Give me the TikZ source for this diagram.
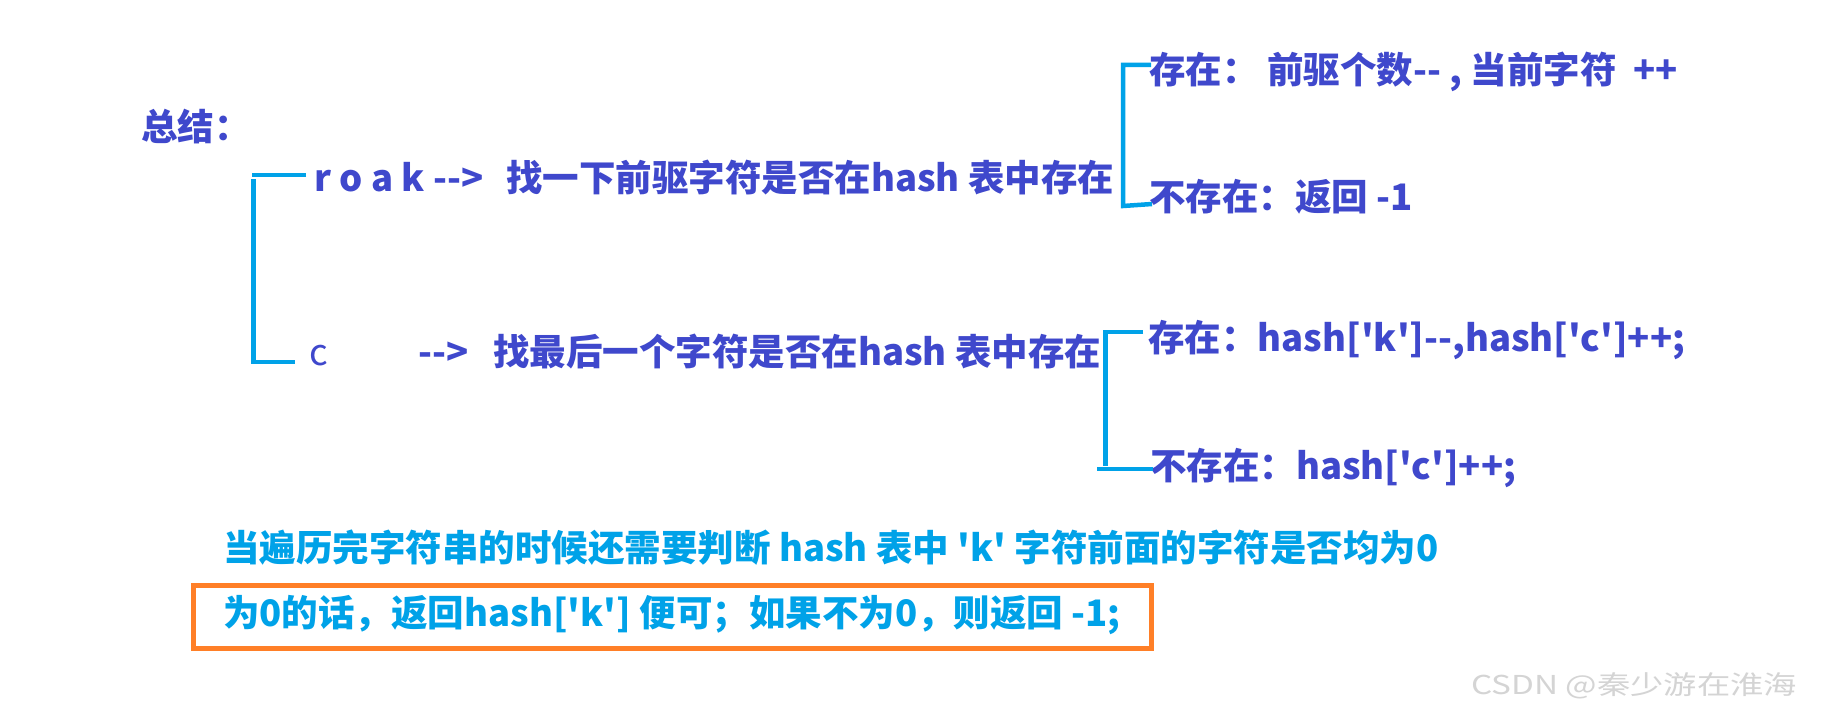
\documentclass[tikz,border=0pt]{standalone}
\usepackage{fontspec}
\setmainfont{Noto Sans CJK SC}[Ligatures=TeXOff]
\usepackage{tikz}
\definecolor{inkblue}{HTML}{3F48CC}
\definecolor{markcyan}{HTML}{00A2E8}
\definecolor{markorange}{HTML}{FF7F27}
\begin{document}
\begin{tikzpicture}[x=1pt, y=-1pt,
    txt/.style={anchor=base west, inner sep=0pt, text=inkblue,
        font=\fontsize{36.5}{44}\selectfont\bfseries},
    note/.style={txt, text=markcyan},
    brace/.style={draw=markcyan, line width=4.5pt},
    ]
    \useasboundingbox[fill=white] (0,0) rectangle (1823,717);
    % heading
    \node[txt] (title) at (141,140) {总结：};
    % first branch: r o a k
    \node[txt] (roak) at (314,191) {r o a k -->};
    \node[txt] (find1) at (506,191) {找一下前驱字符是否在hash 表中存在};
    \node[txt] (yes1) at (1149,83) {存在：\ 前驱个数-- , 当前字符 \ ++};
    \node[txt] (no1) at (1149,210) {不存在：返回 -1};
    % second branch: c
    \node[txt, font=\fontsize{36.5}{44}\selectfont] (c) at (309,365) {c};
    \node[txt] (arrc) at (418,365) {-->};
    \node[txt] (find2) at (493,365) {找最后一个字符是否在hash 表中存在};
    \node[txt] (yes2) at (1148,351) {存在：hash['k']--,hash['c']++;};
    \node[txt] (no2) at (1150,479) {不存在：hash['c']++;};
    % final check after the loop
    \node[note] (check) at (223,561) {当遍历完字符串的时候还需要判断 hash 表中 'k' 字符前面的字符是否均为0};
    \node[note] (result) at (223,626) {为0的话，返回hash['k'] 便可；如果不为0，则返回 -1;};
    \draw[draw=markorange, line width=5pt] (193.5,585.5) rectangle (1151,648.5);
    % brackets
    \coordinate (l1) at (306,175);
    \coordinate (l2) at (295,362);
    \coordinate (r1) at (1151,65);
    \coordinate (r2) at (1152,204);
    \coordinate (s1) at (1143,332);
    \coordinate (s2) at (1153,469);
    \draw[brace] (l1) -- (252,175);
    \draw[brace] (253.5,179) |- (l2);
    \draw[brace] (r1) -| (1123,206) -- (r2);
    \draw[brace] (s1) -| (1105.5,466);
    \draw[brace] (1097,469) -- (s2);
    % watermark
    \node[anchor=base west, inner sep=0pt, text=black!17,
        font=\fontsize{26}{30}\selectfont] (mark) at (1471,694)
        {\scalebox{1.28}[1]{CSDN @秦少游在淮海}};
\end{tikzpicture}
\end{document}
